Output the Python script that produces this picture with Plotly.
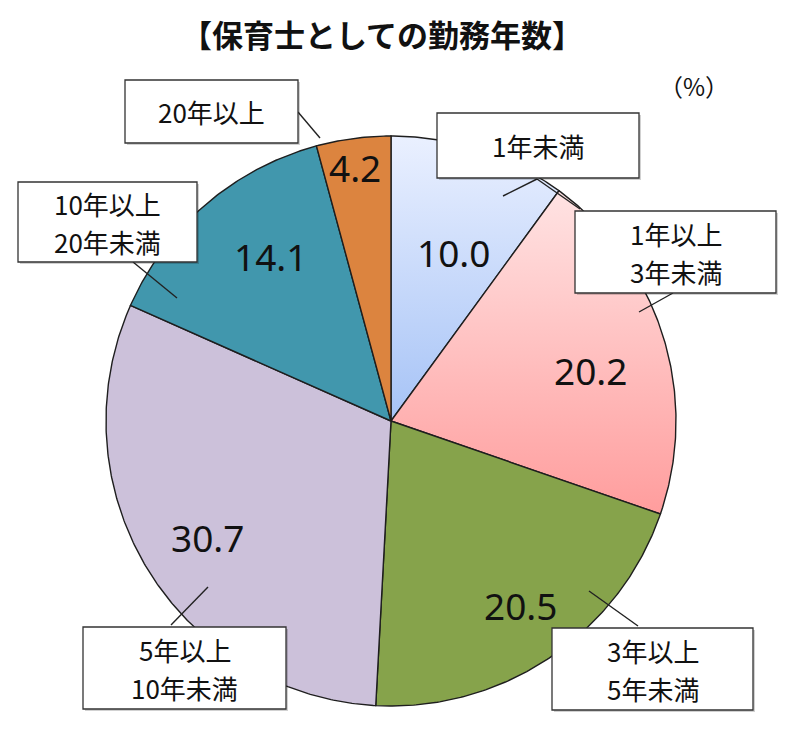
import math
import plotly.graph_objects as go

# ---- data ----
categories = ["1年未満", "1年以上\n3年未満", "3年以上\n5年未満", "5年以上\n10年未満", "10年以上\n20年未満", "20年以上"]
values = [10.0, 20.2, 20.5, 30.7, 14.1, 4.2]
title_text = "【保育士としての勤務年数】"
unit_text = "（%）"

# ---- styles / layout (pixel coordinates) ----
W, H = 800, 731
CX, CY, R = 391, 421, 285
solid_colors = [None, None, "#86a34b", "#ccc1da", "#4197ad", "#dc843f"]
gradients = {
    0: [[0, "#a6c3f6"], [1, "#eaf0ff"]],
    1: [[0, "#ff9d9d"], [1, "#ffe3e3"]],
}
value_pos = [(453, 252), (590, 370), (520, 605), (207, 537), (270, 256), (355, 167)]
box_rects = [(437, 113, 639, 178), (575, 211, 776, 293), (552, 628, 753, 710),
             (83, 627, 286, 709), (18, 182, 197, 262), (125, 80, 298, 143)]
leaders = [[(537, 179, 503, 196), (537, 179, 580, 209)],
           [(673, 293, 639, 312)],
           [(589, 591, 638, 626)],
           [(208, 587, 171, 625)],
           [(133, 262, 177, 298)],
           [(298, 112, 320, 138)]]
LINE_GAP = 38
LABEL_SIZE = 26

fig = go.Figure()
total = sum(values)
start = 0.0
for i, v in enumerate(values):
    a0 = start / total * 2 * math.pi
    a1 = (start + v) / total * 2 * math.pi
    start += v
    n = max(8, int((a1 - a0) * 120))
    xs, ys = [CX], [CY]
    for k in range(n + 1):
        t = a0 + (a1 - a0) * k / n
        xs.append(CX + R * math.sin(t))
        ys.append(CY - R * math.cos(t))
    xs.append(CX)
    ys.append(CY)
    kw = dict(x=xs, y=ys, mode="lines", fill="toself",
              line=dict(color="#1e1e1e", width=1.4),
              hoverinfo="text", text=f"{categories[i].replace(chr(10), '')}: {v}",
              showlegend=False)
    if i in gradients:
        kw["fillgradient"] = dict(type="vertical", colorscale=gradients[i])
    else:
        kw["fillcolor"] = solid_colors[i]
    fig.add_trace(go.Scatter(**kw))

annotations = []
shapes = []
for i, v in enumerate(values):
    px, py = value_pos[i]
    annotations.append(dict(x=px, y=py, xref="x", yref="y", text=f"{v:.1f}",
                            showarrow=False, font=dict(family="Noto Sans", size=37, color="#111111"),
                            xanchor="center", yanchor="middle"))
    x0, y0, x1, y1 = box_rects[i]
    for (lx0, ly0, lx1, ly1) in leaders[i]:
        shapes.append(dict(type="line", x0=lx0, y0=ly0, x1=lx1, y1=ly1, xref="x", yref="y",
                           line=dict(color="#222222", width=1.4), layer="above"))
    # shadow + box
    shapes.append(dict(type="rect", x0=x0 + 2, y0=y0 + 2, x1=x1 + 2, y1=y1 + 2, xref="x", yref="y",
                       line=dict(width=0), fillcolor="rgba(0,0,0,0.18)", layer="above"))
    shapes.append(dict(type="rect", x0=x0, y0=y0, x1=x1, y1=y1, xref="x", yref="y",
                       line=dict(color="#333333", width=1.3), fillcolor="white", layer="above"))
    lines = categories[i].split("\n")
    mid_y = (y0 + y1) / 2
    for j, ln in enumerate(lines):
        ly = mid_y + (j - (len(lines) - 1) / 2) * LINE_GAP
        annotations.append(dict(x=(x0 + x1) / 2, y=ly, xref="x", yref="y", text=ln, showarrow=False,
                                font=dict(family="Noto Sans CJK JP", size=LABEL_SIZE, color="#111111"),
                                xanchor="center", yanchor="middle"))

annotations.append(dict(x=382, y=33, xref="x", yref="y", text=f"<b>{title_text}</b>", showarrow=False,
                        font=dict(family="Noto Sans CJK JP", size=31, color="#111111"),
                        xanchor="center", yanchor="middle"))
annotations.append(dict(x=694, y=85, xref="x", yref="y", text=unit_text, showarrow=False,
                        font=dict(family="Noto Sans CJK JP", size=24, color="#111111"),
                        xanchor="center", yanchor="middle"))

fig.update_layout(
    width=W, height=H, margin=dict(l=0, r=0, t=0, b=0),
    paper_bgcolor="white", plot_bgcolor="white",
    xaxis=dict(range=[0, W], visible=False, fixedrange=True),
    yaxis=dict(range=[H, 0], visible=False, fixedrange=True),
    annotations=annotations, shapes=shapes, showlegend=False,
)
fig.write_html("out.html")
